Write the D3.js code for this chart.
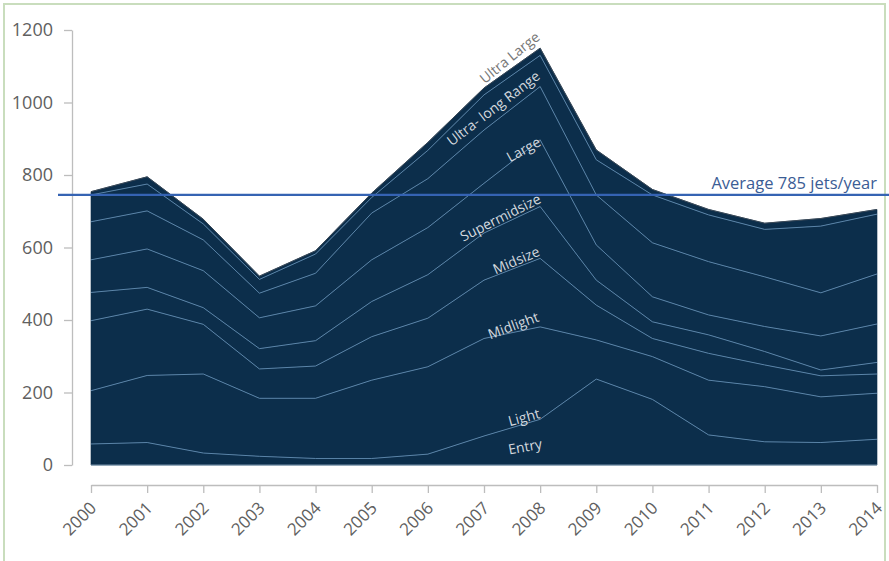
<!DOCTYPE html>
<html><head><meta charset="utf-8">
<script src="https://cdn.jsdelivr.net/npm/d3@7/dist/d3.min.js"></script>
<style>body{margin:0;background:#fff;}svg{display:block;}</style>
</head><body>
<script>
// ---- data (jets delivered per year, by category) ----
const years = [2000,2001,2002,2003,2004,2005,2006,2007,2008,2009,2010,2011,2012,2013,2014];
const entry        = [58, 62, 33, 24, 18, 18, 30, 80,126,237,181, 83, 64, 62, 71];
const light        = [147,185,218,160,166,216,241,269,255,108,118,151,152,126,127];
const midlight     = [193,183,137, 81, 89,120,134,161,189, 96, 50, 74, 60, 58, 53];
const midsize      = [78, 60, 46, 56, 70, 97,120,130,143, 69, 46, 51, 37, 16, 32];
const supermidsize = [90,106,102, 85, 96,115,130,137,184, 97, 69, 55, 69, 94,106];
const large        = [105,105, 85, 68, 90,129,135,147,147,138,149,147,137,119,138];
const ultraLongRange = [74, 74, 44, 38, 53, 43, 78, 97, 86, 97,132,129,131,184,165];
const ultraLarge   = [9, 20, 13,  9,  9, 12, 22, 19, 20, 27, 15, 15, 17, 21, 13];
const seriesNames  = ["Entry","Light","Midlight","Midsize","Supermidsize","Large","Ultra- long Range","Ultra Large"];
const yTicks = [0,200,400,600,800,1000,1200];
const averageValue = 745;
const averageLabel = "Average 785 jets/year";

// ---- build table ----
const seriesArrays = [entry, light, midlight, midsize, supermidsize, large, ultraLongRange, ultraLarge];
const rows = years.map((yr,i)=>{
  const r = {year: yr};
  seriesNames.forEach((n,k)=>{ r[n] = seriesArrays[k][i]; });
  return r;
});
const stacked = d3.stack().keys(seriesNames)(rows);

// ---- layout ----
const W = 889, H = 561;
const x = d3.scaleLinear().domain([2000,2014]).range([91,877]);
const y = d3.scaleLinear().domain([0,1200]).range([465,30]);

const svg = d3.select("body").append("svg").attr("width",W).attr("height",H)
  .style("font-family","'Open Sans', sans-serif");

svg.append("rect").attr("width",W).attr("height",H).attr("fill","#fff");
// frame
svg.append("rect").attr("x",4).attr("y",4).attr("width",881).attr("height",600)
  .attr("fill","none").attr("stroke","#c9ddbd").attr("stroke-width",2);

const navy = "#0c2e4b";
const area = d3.area().x(d=>x(d.data.year)).y0(d=>y(d[0])).y1(d=>y(d[1]));
svg.append("g").selectAll("path").data(stacked).join("path")
  .attr("d",area).attr("fill",navy).attr("stroke",navy).attr("stroke-width",0.6);

const line = d3.line().x(d=>x(d.data.year)).y(d=>y(d[1]));
// inner boundaries
svg.append("g").selectAll("path").data(stacked.slice(0,-1)).join("path")
  .attr("d",line).attr("fill","none").attr("stroke","#5a84a8").attr("stroke-width",1);
// top outline
svg.append("path").datum(stacked[stacked.length-1]).attr("d",line)
  .attr("fill","none").attr("stroke","#3a4856").attr("stroke-width",1);
// bottom edge
svg.append("line").attr("x1",x(2000)).attr("x2",x(2014)).attr("y1",y(0)).attr("y2",y(0))
  .attr("stroke","#7895ad").attr("stroke-width",1);

// ---- y axis ----
const yAxis = d3.axisLeft(y).tickValues(yTicks).tickFormat(d3.format("d"))
  .tickSize(8).tickSizeOuter(0).tickPadding(11);
const gy = svg.append("g").attr("transform","translate(72,0)").call(yAxis);
gy.select(".domain").attr("stroke","#bdbdbd").attr("stroke-width",1.3);
gy.selectAll(".tick line").attr("stroke","#bdbdbd").attr("stroke-width",1.3);
gy.selectAll(".tick text").attr("fill","#606060").style("font-size","18px")
  .style("font-family","'Open Sans', sans-serif");

// ---- x axis ----
const xAxis = d3.axisBottom(x).tickValues(years).tickFormat(d3.format("d")).tickSize(8).tickSizeOuter(0);
const gx = svg.append("g").attr("transform","translate(0,485)").call(xAxis);
gx.select(".domain").attr("stroke","#bdbdbd").attr("stroke-width",1.3);
gx.selectAll(".tick line").attr("stroke","#bdbdbd").attr("stroke-width",1.3);
gx.selectAll(".tick text").attr("fill","#606060").style("font-size","17px")
  .style("font-family","'Open Sans', sans-serif")
  .attr("text-anchor","end").attr("x",0).attr("y",0).attr("dy",null)
  .attr("transform","translate(6,24) rotate(-45)");

// ---- average line ----
svg.append("line").attr("x1",58).attr("x2",889)
  .attr("y1",y(averageValue)).attr("y2",y(averageValue))
  .attr("stroke","#3563b3").attr("stroke-width",2.2);
svg.append("text").attr("x",877).attr("y",y(averageValue)-6)
  .attr("text-anchor","end").attr("fill","#3b5d95")
  .style("font-size","16.5px").text(averageLabel);

// ---- series labels (annotation placement in data space) ----
const labelPlacement = [
  {name:"Ultra Large",        yr:2007.45, v:1125, a:-39,  c:"#777777"},
  {name:"Ultra- long Range",  yr:2007.16, v:985,  a:-37.5,c:"#d3d8de"},
  {name:"Large",              yr:2007.70, v:872,  a:-29,  c:"#d3d8de"},
  {name:"Supermidsize",       yr:2007.29, v:684,  a:-26.6,c:"#d3d8de"},
  {name:"Midsize",            yr:2007.57, v:566,  a:-23,  c:"#d3d8de"},
  {name:"Midlight",           yr:2007.52, v:386,  a:-20.5,c:"#d3d8de"},
  {name:"Light",              yr:2007.71, v:133,  a:-15,  c:"#d3d8de"},
  {name:"Entry",              yr:2007.73, v:52,   a:-10,  c:"#d3d8de"}
];
svg.append("g").selectAll("text").data(labelPlacement).join("text")
  .attr("transform",d=>`translate(${x(d.yr)},${y(d.v)}) rotate(${d.a})`)
  .attr("text-anchor","middle").attr("dominant-baseline","central")
  .attr("fill",d=>d.c).style("font-size","14px").text(d=>d.name);
</script>
</body></html>
